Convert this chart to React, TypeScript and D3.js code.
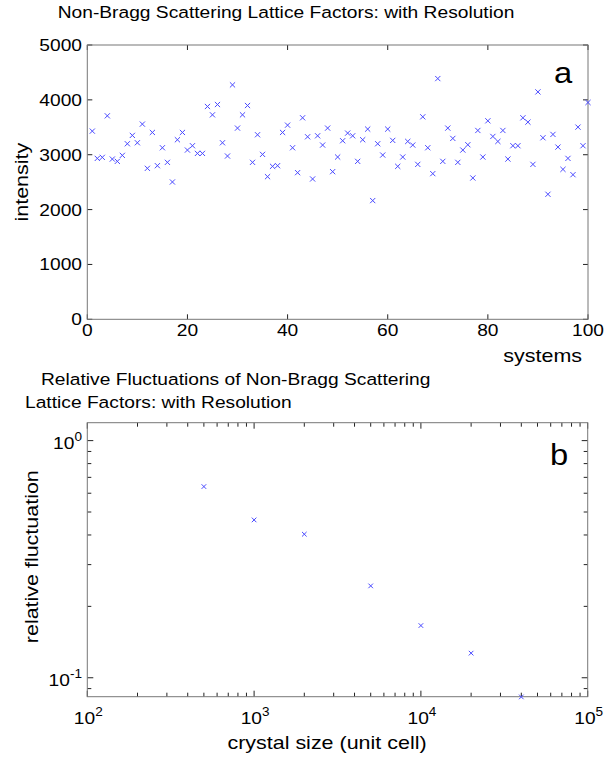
import React, { useEffect, useRef } from "react";
import * as d3 from "d3";

// panel a: intensity of each system
const intensity = [
  3430, 2933, 2952, 3709, 2921, 2879, 2988, 3200, 3352, 3218,
  3558, 2752, 3406, 2800, 3127, 2861, 2503, 3273, 3406, 3085,
  3164, 3024, 3024, 3879, 3727, 3915, 3218, 2976, 4273, 3485,
  3727, 3897, 2861, 3364, 3006, 2600, 2788, 2800, 3406, 3539,
  3127, 2673, 3673, 3327, 2558, 3345, 3176, 3485, 2691, 2958,
  3255, 3394, 3345, 2879, 3273, 3467, 2164, 3200, 2994, 3467,
  3261, 2788, 2958, 3242, 3176, 2824, 3691, 3127, 2655, 4388,
  2879, 3485, 3297, 2861, 3085, 3182, 2576, 3442, 2958, 3618,
  3333, 3242, 3442, 2921, 3164, 3164, 3673, 3594, 2824, 4145,
  3309, 2279, 3370, 3139, 2733, 2933, 2636, 3503, 3164, 3952,
];
const xTicksA = [0, 20, 40, 60, 80, 100];
const yTicksA = [0, 1000, 2000, 3000, 4000, 5000];

// panel b: relative fluctuation vs crystal size
const crystalSize = [500, 1000, 2000, 5000, 10000, 20000, 40000];
const relFluct = [0.64, 0.463, 0.403, 0.244, 0.166, 0.127, 0.083];
const xDecadesB = [2, 3, 4, 5];
const yDecadesB = [0, -1];

const width = 604;
const height = 760;
const font = "'Liberation Sans', Arial, Helvetica, sans-serif";
const fs = 17;
const labelFs = 19;
const sx = 1.13; // the original lettering is a bit wider than Arial
const markColor = "#4a4aff";

const drawX = (g, x, y, s = 2.6) => {
  g.append("path")
    .attr("d", `M${x - s},${y - s}L${x + s},${y + s}M${x - s},${y + s}L${x + s},${y - s}`)
    .attr("stroke", markColor)
    .attr("stroke-width", 1)
    .attr("fill", "none");
};

// text stretched horizontally, placed at (x, y)
const txt = (g, x, y, s, anchor = "start", size = fs, rot = 0) =>
  g.append("text")
    .attr("transform", `translate(${x},${y})${rot ? ` rotate(${rot})` : ""} scale(${sx},1)`)
    .attr("text-anchor", anchor)
    .attr("font-size", size)
    .text(s);

const powLabel = (g, x, y, e, anchor) => {
  const t = g.append("text")
    .attr("transform", `translate(${x},${y}) scale(${sx},1)`)
    .attr("text-anchor", anchor)
    .attr("font-size", fs);
  t.append("tspan").text("10");
  t.append("tspan").attr("dy", -8).attr("font-size", 12).text(e);
};

const App = () => {
  const svgRef = useRef(null);

  useEffect(() => {
    const svg = d3.select(svgRef.current);
    svg.selectAll("*").remove();
    svg.attr("font-family", font);

    // ---------- panel a ----------
    const a = { l: 87.3, r: 588, t: 45, b: 319.3 };
    const xA = d3.scaleLinear().domain([0, 100]).range([a.l, a.r]);
    const yA = d3.scaleLinear().domain([0, 5000]).range([a.b, a.t]);
    const gA = svg.append("g");

    txt(gA, 286, 18, "Non-Bragg Scattering Lattice Factors: with Resolution", "middle");

    // ticks, inward, on all four sides
    xTicksA.forEach((t) => {
      const px = xA(t);
      gA.append("line").attr("x1", px).attr("x2", px).attr("y1", a.b).attr("y2", a.b - 5).attr("stroke", "#222");
      gA.append("line").attr("x1", px).attr("x2", px).attr("y1", a.t).attr("y2", a.t + 5).attr("stroke", "#222");
      txt(gA, px, 336, String(t), "middle");
    });
    yTicksA.forEach((t) => {
      const py = yA(t);
      gA.append("line").attr("x1", a.l).attr("x2", a.l + 5).attr("y1", py).attr("y2", py).attr("stroke", "#222");
      gA.append("line").attr("x1", a.r).attr("x2", a.r - 5).attr("y1", py).attr("y2", py).attr("stroke", "#222");
      txt(gA, 82, py + 6, String(t), "end");
    });
    gA.append("rect")
      .attr("x", a.l).attr("y", a.t).attr("width", a.r - a.l).attr("height", a.b - a.t)
      .attr("fill", "none").attr("stroke", "#777").attr("stroke-width", 1);

    intensity.forEach((v, i) => drawX(gA, xA(i + 1), yA(v)));

    txt(gA, 582, 362, "systems", "end", labelFs);
    txt(gA, 28, (a.t + a.b) / 2, "intensity", "middle", labelFs, -90);
    txt(gA, 554, 83, "a", "start", 29);

    // ---------- panel b ----------
    const b = { l: 87.3, r: 587.7, t: 422.7, b: 696.7 };
    const xB = d3.scaleLog().domain([100, 100000]).range([b.l, b.r]);
    const yB = d3.scaleLog().domain([0.0832, 1.19]).range([b.b, b.t]);
    const gB = svg.append("g");

    txt(gB, 41, 385, "Relative Fluctuations of Non-Bragg Scattering");
    txt(gB, 25, 408, "Lattice Factors: with Resolution");

    // x ticks: major per decade and minor 2..9
    xDecadesB.forEach((e) => {
      const base = Math.pow(10, e);
      const px = xB(base);
      gB.append("line").attr("x1", px).attr("x2", px).attr("y1", b.b).attr("y2", b.b - 6).attr("stroke", "#222");
      gB.append("line").attr("x1", px).attr("x2", px).attr("y1", b.t).attr("y2", b.t + 6).attr("stroke", "#222");
      powLabel(gB, px + 1, 724, e, "middle");
      if (e < 5) {
        for (let m = 2; m <= 9; m++) {
          const mx = xB(m * base);
          gB.append("line").attr("x1", mx).attr("x2", mx).attr("y1", b.b).attr("y2", b.b - 4).attr("stroke", "#222");
          gB.append("line").attr("x1", mx).attr("x2", mx).attr("y1", b.t).attr("y2", b.t + 4).attr("stroke", "#222");
        }
      }
    });

    // y ticks
    const yMinor = [];
    [0.01, 0.1, 1].forEach((base) => {
      for (let m = 1; m <= 9; m++) {
        const v = m * base;
        if (v >= 0.0832 && v <= 1.19) yMinor.push(v);
      }
    });
    yMinor.forEach((v) => {
      const py = yB(v);
      const major = yDecadesB.some((e) => Math.abs(Math.pow(10, e) - v) < 1e-9);
      const len = major ? 6 : 4;
      gB.append("line").attr("x1", b.l).attr("x2", b.l + len).attr("y1", py).attr("y2", py).attr("stroke", "#222");
      gB.append("line").attr("x1", b.r).attr("x2", b.r - len).attr("y1", py).attr("y2", py).attr("stroke", "#222");
    });
    yDecadesB.forEach((e) => {
      const py = yB(Math.pow(10, e));
      powLabel(gB, 82, py + 8, e, "end");
    });

    gB.append("rect")
      .attr("x", b.l).attr("y", b.t).attr("width", b.r - b.l).attr("height", b.b - b.t)
      .attr("fill", "none").attr("stroke", "#777").attr("stroke-width", 1);

    crystalSize.forEach((s, i) => drawX(gB, xB(s), yB(relFluct[i]), 2.3));

    txt(gB, 327, 749, "crystal size (unit cell)", "middle", labelFs);
    txt(gB, 38, (b.t + b.b) / 2 - 3, "relative fluctuation", "middle", labelFs, -90);
    txt(gB, 550, 465, "b", "start", 29);
  }, []);

  return (
    <svg
      width={width}
      height={height}
      ref={svgRef}
      style={{ position: "absolute", left: 0, top: 0, background: "#fff" }}
    ></svg>
  );
};

export default App;
